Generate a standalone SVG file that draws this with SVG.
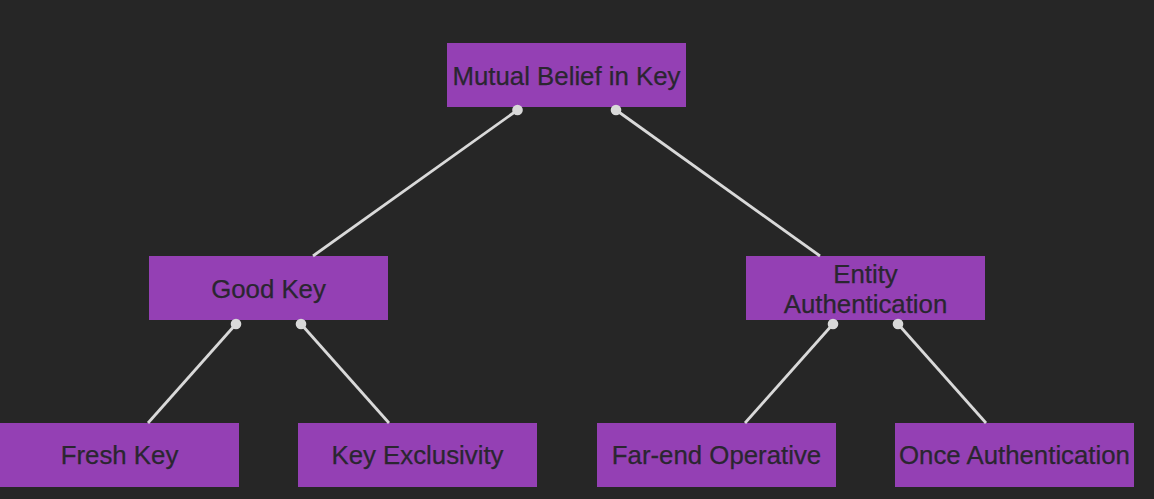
<svg xmlns="http://www.w3.org/2000/svg" width="1154" height="499" viewBox="0 0 1154 499">
<style>
.bg{fill:#262626}
.node rect{fill:#9440b4}
.node text{font-family:"Liberation Sans",Arial,sans-serif;font-size:25.8px;fill:#2a2630;text-anchor:middle;stroke:#2a2630;stroke-width:0.25}
.edge{stroke:#d9d9d9;stroke-width:2.8;fill:none}
.dot{fill:#d9d9d9}
</style>
<rect class="bg" x="0" y="0" width="1154" height="499"/>
<g id="node-mutual" class="node"><rect x="447" y="43" width="239" height="64"/><text x="566.5" y="84.5">Mutual Belief in Key</text></g>
<g id="node-goodkey" class="node"><rect x="149" y="256" width="239" height="64"/><text x="268.5" y="297.5">Good Key</text></g>
<g id="node-entity" class="node"><rect x="746" y="256" width="239" height="64"/><text x="865.5" y="282.5">Entity</text><text x="865.5" y="312.5">Authentication</text></g>
<g id="node-fresh" class="node"><rect x="0" y="423" width="239" height="64"/><text x="119.5" y="463.5">Fresh Key</text></g>
<g id="node-exclusivity" class="node"><rect x="298" y="423" width="239" height="64"/><text x="417.5" y="463.5">Key Exclusivity</text></g>
<g id="node-farend" class="node"><rect x="597" y="423" width="239" height="64"/><text x="716.5" y="463.5">Far-end Operative</text></g>
<g id="node-once" class="node"><rect x="895" y="423" width="239" height="64"/><text x="1014.5" y="463.5">Once Authentication</text></g>
<g id="connectors">
<line class="edge" x1="517.5" y1="110" x2="313" y2="256"/>
<circle class="dot" cx="517.5" cy="110" r="5.3"/>
<line class="edge" x1="616" y1="110" x2="820" y2="256"/>
<circle class="dot" cx="616" cy="110" r="5.3"/>
<line class="edge" x1="236" y1="324" x2="148" y2="423"/>
<circle class="dot" cx="236" cy="324" r="5.3"/>
<line class="edge" x1="301" y1="324" x2="389" y2="423"/>
<circle class="dot" cx="301" cy="324" r="5.3"/>
<line class="edge" x1="833" y1="324" x2="745" y2="423"/>
<circle class="dot" cx="833" cy="324" r="5.3"/>
<line class="edge" x1="898" y1="324" x2="986" y2="423"/>
<circle class="dot" cx="898" cy="324" r="5.3"/>
</g>
</svg>
